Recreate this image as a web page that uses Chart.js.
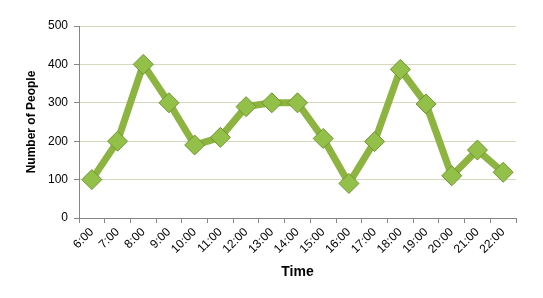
<!DOCTYPE html>
<html>
<head>
  <meta charset="utf-8" />
  <title>Number of People</title>
  <style>
    body { margin: 0; background: #fff; }
    #wrap { width: 543px; height: 298px; }
  </style>
</head>
<body>
  <div id="wrap"><canvas id="stage"></canvas></div>

  <script src="https://cdn.jsdelivr.net/npm/chart.js@4/dist/chart.umd.min.js"></script>
  <script>
    const times = ['6:00', '7:00', '8:00', '9:00', '10:00', '11:00', '12:00', '13:00', '14:00',
                   '15:00', '16:00', '17:00', '18:00', '19:00', '20:00', '21:00', '22:00'];
    const people = [100, 200, 400, 300, 190, 210, 290, 300, 300, 207, 90, 199, 387, 297, 110, 177, 119];
    const yTicks = [0, 100, 200, 300, 400, 500];

    const font = { family: 'Liberation Sans', size: 12 };

    new Chart(document.getElementById('stage'), {
      type: 'line',
      data: {
        labels: times,
        datasets: [{
          label: 'Number of People',
          data: people,
          borderColor: '#8db440',
          borderWidth: 7,
          tension: 0,
          pointStyle: 'rectRot',
          pointRadius: 10,
          pointHoverRadius: 10,
          pointBackgroundColor: '#92c048',
          pointBorderColor: '#6f9530',
          pointBorderWidth: 1
        }]
      },
      options: {
        responsive: true,
        maintainAspectRatio: false,
        animation: false,
        layout: { padding: { top: 26, right: 27, left: 0, bottom: 0 } },
        plugins: {
          legend: { display: false },
          tooltip: { enabled: false }
        },
        scales: {
          x: {
            offset: true,
            grid: { drawOnChartArea: false, drawTicks: true, tickLength: 5, color: '#868686', offset: true },
            border: { color: '#868686' },
            ticks: { color: '#000', font: font, minRotation: 45, maxRotation: 45, padding: 2 },
            title: { display: true, text: 'Time', color: '#000', font: { family: 'Liberation Sans', size: 14, weight: 'bold' }, padding: { top: 0, bottom: 17 } },
            afterFit: s => { s.height = 80; }
          },
          y: {
            min: 0,
            max: 500,
            afterBuildTicks: s => { s.ticks = yTicks.map(v => ({ value: v })); },
            grid: { color: '#d8d8be', tickLength: 5, tickColor: '#868686' },
            border: { color: '#868686' },
            ticks: { color: '#000', font: font, padding: 6 },
            title: { display: true, text: 'Number of People', color: '#000', font: { family: 'Liberation Sans', size: 12, weight: 'bold' }, padding: { top: 24, bottom: 0 } },
            afterFit: s => { s.width = 79; }
          }
        }
      }
    });
  </script>
</body>
</html>
